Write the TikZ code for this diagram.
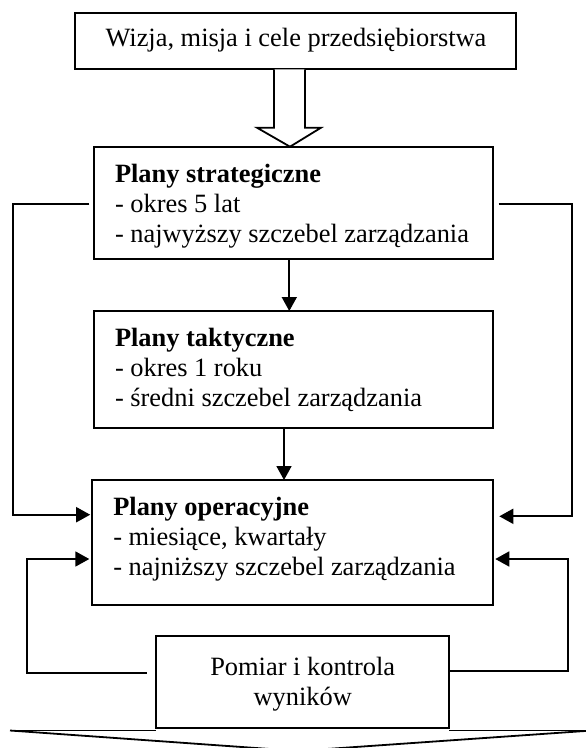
\documentclass[tikz,border=0pt]{standalone}
\usepackage{fontspec}
\setmainfont{Liberation Serif}
\usetikzlibrary{arrows.meta,calc}
\begin{document}
\begin{tikzpicture}[x=1pt,y=-1pt,
  frame/.style={draw, line width=1.8pt, fill=white, inner sep=0pt, outer sep=0pt, anchor=north west},
  body/.style={anchor=north west, align=left, inner sep=0pt, outer sep=0pt,
    font=\fontsize{26.4pt}{30pt}\selectfont},
  link/.style={line width=1.8pt},
  arr/.style={link, -{Triangle[length=14pt,width=15pt]}}]
\useasboundingbox (0,0) rectangle (586,748);

% planning levels
\node[frame, minimum width=441pt, minimum height=56pt] (vision) at (75,13.3) {};
\node[body, anchor=base, align=center] (visiontxt) at (296,46.7) {Wizja, misja i cele przedsiębiorstwa};

\node[frame, minimum width=399.3pt, minimum height=112.6pt] (strat) at (94,146.7) {};
\node[body] (strattxt) at (115,161.7)
  {\strut\textbf{Plany strategiczne}\\- okres 5 lat\\- najwyższy szczebel zarządzania};

\node[frame, minimum width=399.3pt, minimum height=116.7pt] (tact) at (94,311) {};
\node[body] (tacttxt) at (115,325.7)
  {\strut\textbf{Plany taktyczne}\\- okres 1 roku\\- średni szczebel zarządzania};

\node[frame, minimum width=401pt, minimum height=125.3pt] (ops) at (91.7,480) {};
\node[body] (opstxt) at (113.3,494)
  {\strut\textbf{Plany operacyjne}\\- miesiące, kwartały\\- najniższy szczebel zarządzania};

% feedback from results: wide downward arrow under the control box
\coordinate (bl) at (10,730.5);
\coordinate (br) at (592,730.5);
\coordinate (bt) at (298,751);
\draw[link] (bl) -- (bt) -- (br);

\node[frame, minimum width=293.3pt, minimum height=91.7pt] (pomiar) at (156,636.3) {};
\node[body, anchor=north, align=center] (pomiartxt) at (302.7,654) {\strut Pomiar i kontrola\\wyników};

\draw[link] (bl) -- (pomiar.south west |- bl);
\draw[link] (pomiar.south east |- bl) -- (br);

% hollow arrow from the vision to the strategic plans
\coordinate (h) at (290,0);
\draw[link, fill=white] ($(vision.south -| h)+(-16,0)$) -- ++(0,58.4) -- ++(-17,0)
  -- (strat.north -| h) -- ++(31,-19) -- ++(-16,0) -- ($(vision.south -| h)+(15,0)$);

% cascade between plan levels
\coordinate (c1) at (289.3,0);
\coordinate (c2) at (284,0);
\draw[arr] (strat.south -| c1) -- (tact.north -| c1);
\draw[arr] (tact.south -| c2) -- (ops.north -| c2);

% strategic plans feed operational plans directly
\coordinate (lo) at (89.3,204);
\coordinate (lx) at (13.3,514.7);
\draw[arr] (lo) -| (lx) -- ([xshift=-1.5pt]ops.west |- lx);
\coordinate (ro) at (498.7,204);
\coordinate (rx) at (571.7,516.3);
\draw[arr] (ro) -| (rx) -- ([xshift=6.6pt]ops.east |- rx);

% control results loop back to operational plans
\coordinate (pl) at (146.7,673);
\coordinate (ll) at (26.7,559);
\draw[arr] (pl) -| (ll) -- ([xshift=-2.4pt]ops.west |- ll);
\coordinate (pr) at (449.3,670.7);
\coordinate (rl) at (567.7,559);
\draw[arr] (pomiar.east |- pr) -| (rl) -- ([xshift=2.6pt]ops.east |- rl);
\end{tikzpicture}
\end{document}
